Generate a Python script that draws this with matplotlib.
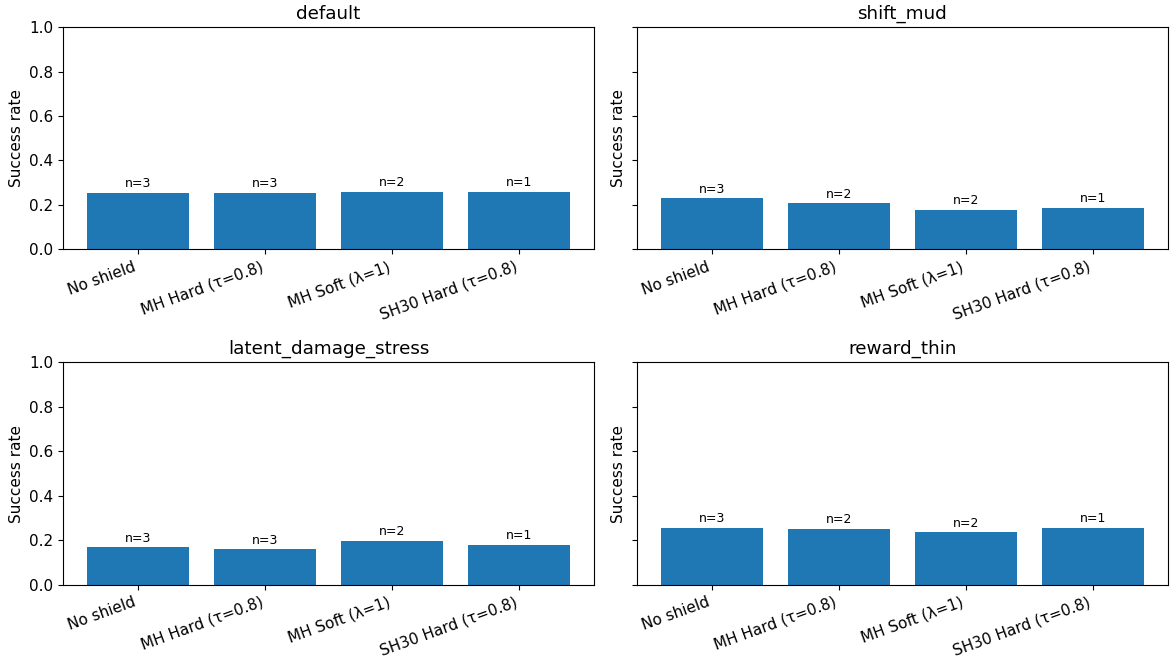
import matplotlib; matplotlib.use("Agg")
import matplotlib.pyplot as plt

methods = ["No shield", "MH Hard (τ=0.8)", "MH Soft (λ=1)", "SH30 Hard (τ=0.8)"]
scenarios = ["default", "shift_mud", "latent_damage_stress", "reward_thin"]
rates = {
    "default": [0.255, 0.255, 0.258, 0.258],
    "shift_mud": [0.230, 0.207, 0.178, 0.187],
    "latent_damage_stress": [0.169, 0.160, 0.199, 0.180],
    "reward_thin": [0.256, 0.253, 0.236, 0.257],
}
counts = {
    "default": [3, 3, 2, 1],
    "shift_mud": [3, 2, 2, 1],
    "latent_damage_stress": [3, 3, 2, 1],
    "reward_thin": [3, 2, 2, 1],
}

plt.rcParams.update({"font.size": 11, "axes.titlesize": 13.2, "axes.labelsize": 11})

fig, axes = plt.subplots(2, 2, figsize=(11.7, 6.6), dpi=100, sharey=True)
for ax, sc in zip(axes.flat, scenarios):
    x = range(len(methods))
    ax.bar(x, rates[sc], color="#1f77b4")
    for xi, h, n in zip(x, rates[sc], counts[sc]):
        ax.text(xi, h + 0.012, f"n={n}", ha="center", va="bottom", fontsize=9)
    ax.set_xticks(list(x))
    ax.set_xticklabels(methods, rotation=20, ha="right")
    ax.set_ylim(0, 1.0)
    ax.set_ylabel("Success rate")
    ax.set_title(sc)
fig.subplots_adjust(left=0.054, right=0.998, top=0.959, bottom=0.114,
                    wspace=0.081, hspace=0.508)
fig.savefig("out.png")
